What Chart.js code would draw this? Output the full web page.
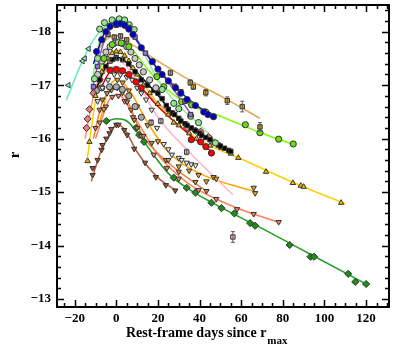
<!DOCTYPE html>
<html>
<head>
<meta charset="utf-8">
<script src="https://cdn.jsdelivr.net/npm/chart.js@4"></script>
<style>
  body { margin: 0; background: #fff; }
  #wrap { width: 394px; height: 348px; }
</style>
</head>
<body>
<div id="wrap"><canvas id="lc"></canvas></div>
<script>
const aquaObs = [[-23,-17.0],[-16.2,-17.45],[-15.2,-17.5],[-13.3,-17.68]];
const aquaFit = [[-24,-16.72],[-18,-17.3],[-12,-17.78],[-6,-18.08],[0,-18.2]];

const paleObs = [[-10.5,-17.12],[-9,-17.5],[-8,-18.05],[-5.7,-18.17],[-2,-18.22],[1.4,-18.24],[4,-18.22],[6.2,-18.13],[8.6,-18.04],[22,-16.92],[27.6,-16.66],[30,-16.56],[35.7,-16.42],[39.5,-16.3],[47.6,-15.92]];
const paleFit = [[-12,-17.0],[-8,-17.85],[-4,-18.15],[1,-18.25],[6,-18.15],[12,-17.7],[20,-17.1],[30,-16.62],[40,-16.26],[48,-15.95]];

const blueObs = [[-9.5,-17.63],[-7,-17.85],[-5,-18.0],[-3,-18.1],[0,-18.15],[2,-18.15],[4,-18.12],[6,-18.05],[8,-17.95],[12,-17.7],[17.3,-17.44],[20,-17.3],[22,-17.2],[25,-17.08],[28.5,-16.95],[31,-16.85],[34,-16.73],[38,-16.62],[42,-16.5],[44,-16.45],[46.7,-16.41]];
const blueFit = [[-11,-17.4],[-6,-17.95],[0,-18.17],[5,-18.1],[10,-17.82],[20,-17.3],[30,-16.9],[40,-16.58],[47,-16.42]];

const purpleObs = [[-11,-16.97],[-9,-17.35],[-4,-17.95],[0,-18.12],[3,-18.15],[6,-18.08],[9,-17.9],[14,-17.6],[28,-16.98],[31,-16.88],[33,-16.7],[35.7,-16.45]];
const purpleFit = [[-12,-16.85],[-6,-17.8],[1,-18.15],[8,-17.95],[15,-17.55],[25,-17.05],[36,-16.45]];

const goldObs = [[-1,-17.9],[2,-17.92],[5,-17.85],[26,-17.23],[35.5,-17.05],[37,-16.97],[43,-16.86],[53.3,-16.71],[60.5,-16.6],[69,-16.22]];
const goldErr = [0.04,0.04,0.04,0.05,0.05,0.05,0.06,0.07,0.1,0.08];
const goldFit = [[-10,-17.6],[-4,-17.88],[0,-17.93],[8,-17.75],[20,-17.45],[35,-17.1],[50,-16.8],[69,-16.38]];

const limeObs = [[-6,-17.5],[-2,-17.76],[2.4,-17.79],[6,-17.72],[19.5,-17.16],[22.8,-16.97],[31.4,-16.69],[36.2,-16.63],[42.9,-16.5],[62,-16.26],[69,-16.11],[78,-15.99],[85,-15.9]];
const limeFit = [[-8,-17.3],[-3,-17.72],[2,-17.8],[8,-17.65],[15,-17.3],[25,-16.9],[35,-16.63],[50,-16.42],[70,-16.1],[86,-15.88]];

const silverObs = [[-9,-17.2],[-7,-17.45],[-5,-17.62],[-3,-17.72],[-1,-17.78],[1,-17.8],[3,-17.78],[5,-17.72],[7,-17.62],[9,-17.5],[11,-17.38],[13,-17.25],[16,-17.1],[19,-16.95]];

const amberObs = [[-13.8,-15.58],[-12.9,-15.94],[-10,-16.8],[-7,-17.25],[-4,-17.5],[-2,-17.6],[0,-17.63],[2,-17.62],[4,-17.55],[6,-17.45],[8,-17.32],[10,-17.2],[13,-17.0],[16,-16.85],[20,-16.65],[25,-16.45],[27.6,-16.3],[30,-16.25],[35,-16.1],[38.6,-16.0],[45,-15.87],[50.5,-15.83],[55,-15.72],[58.6,-15.64],[71.9,-15.38],[84.8,-15.17],[88.6,-15.12],[90,-15.1],[108,-14.8]];
const amberFit = [[-14,-15.6],[-12,-16.2],[-8,-17.15],[-4,-17.52],[0,-17.65],[5,-17.5],[10,-17.2],[20,-16.65],[30,-16.25],[45,-15.87],[60,-15.62],[85,-15.18],[110,-14.78]];

const blackObs = [[-8,-17.1],[-5,-17.35],[-2,-17.48],[0,-17.52],[3,-17.48],[6,-17.4],[9,-17.25],[12,-17.1],[15,-17.0],[18,-16.9],[20,-16.85],[22,-16.75],[24,-16.62],[25,-16.55],[27,-16.48],[28,-16.45],[30,-16.38],[31,-16.33],[33,-16.28],[34,-16.25],[36,-16.2],[38,-16.15],[40,-16.1],[41,-16.06],[43,-16.02],[45,-15.98],[47,-15.93],[49,-15.88],[50,-15.86],[52,-15.82],[54,-15.78],[55,-15.76]];
const blackFit = [[-10,-16.9],[-4,-17.42],[1,-17.52],[8,-17.3],[18,-16.9],[28,-16.45],[40,-16.1],[56,-15.74]];

const redObs = [[-3,-17.28],[0,-17.29],[3,-17.27],[6,-17.2],[9.5,-17.06],[12,-16.95],[36,-15.98],[40.5,-15.94],[43,-15.85],[45.7,-15.73]];
const redFit = [[-8,-16.9],[-3,-17.25],[1,-17.3],[8,-17.12],[20,-16.6],[35,-16.08],[46,-15.75]];

const pinkObs = [[-3,-17.45],[0,-17.5],[3,-17.48],[16.7,-16.3],[21.4,-16.33],[33.8,-15.75],[56,-14.16]];
const pinkErr = [0.04,0.04,0.04,0.05,0.05,0.05,0.1];
const pinkFit = [[-10,-16.8],[-4,-17.4],[0,-17.5],[6,-17.3],[20,-16.4],[35,-15.75],[56,-14.95]];

const salmonObs = [[-14.3,-16.2],[-13.8,-16.37],[-12.9,-16.55],[-11,-16.85],[-8,-17.1],[34,-16.2],[38,-16.15],[40.5,-16.13],[44.3,-16.03]];
const salmonFit = [[-15,-16.0],[-10,-16.95],[-4,-17.3],[0,-17.35],[10,-17.0],[25,-16.5],[45,-16.0]];

const openObs = [[-9,-16.7],[-6.7,-16.95],[-4,-17.1],[-1,-17.2],[2,-17.2],[5,-17.15],[7.6,-17.1],[10,-16.95],[12,-16.85],[14.3,-16.73],[17,-16.54],[19.5,-16.2],[22.8,-15.9],[25,-15.8],[26.7,-15.7],[30,-15.64],[31.4,-15.6],[33.8,-15.55],[36,-15.52],[38,-15.5]];

const grayObs = [[-9.5,-16.9],[-7,-16.95],[-3.3,-16.97],[0,-16.97],[2.9,-16.92],[6,-16.8],[9,-16.6],[12,-16.4]];

const orangeObs = [[-6,-16.55],[-3,-16.95],[0.5,-17.1],[3,-17.05],[6,-16.9],[10,-16.6],[15,-16.25],[20,-15.95],[25,-15.6],[30,-15.48],[35,-15.4],[39.5,-15.32],[43.3,-15.2],[46.7,-15.28],[48,-15.25],[66,-15.08],[66.7,-14.98]];
const orangeFit = [[-8,-16.3],[-4,-16.9],[0,-17.1],[6,-16.92],[15,-16.3],[25,-15.75],[40,-15.35],[67,-15.0]];

const peruObs = [[-10,-16.2],[-8,-16.54],[-6.7,-16.73],[-4.5,-16.85],[-2.4,-16.91],[0.5,-16.95],[2.9,-16.86],[5.2,-16.69],[7.1,-16.54],[8.6,-16.35],[10,-16.2],[13,-16.05],[17,-15.92],[23.8,-15.6],[30,-15.38],[38,-15.19],[43.3,-15.02]];
const peruFit = [[-11,-16.0],[-7,-16.65],[-2,-16.92],[1,-16.95],[6,-16.65],[12,-16.1],[22,-15.65],[32,-15.33],[44,-15.0]];

const coralObs = [[-8,-16.3],[-5,-16.6],[-2,-16.78],[1,-16.8],[4,-16.7],[8,-16.4],[12,-16.05],[18,-15.7],[24.3,-15.45],[30,-15.25],[39.5,-15.04],[48,-14.87],[58,-14.68],[66,-14.59],[78,-14.44]];
const coralFit = [[-10,-16.0],[-3,-16.75],[1,-16.82],[8,-16.45],[20,-15.7],[35,-15.15],[55,-14.75],[79,-14.42]];

const greenObs = [[-4.8,-16.33],[9.5,-16.2],[11,-16.07],[13.3,-15.94],[27.6,-15.27],[33.8,-15.08],[38,-14.99],[45.7,-14.8],[50.5,-14.7],[56.7,-14.6],[64.3,-14.42],[66.7,-14.37],[83.3,-14.01],[93.3,-13.79],[95,-13.79],[111.4,-13.47],[114.8,-13.32],[120,-13.28]];
const greenFit = [[-6,-16.3],[0,-16.37],[5,-16.33],[10,-16.12],[15,-15.85],[25,-15.35],[35,-15.05],[50,-14.72],[70,-14.32],[95,-13.8],[121,-13.26]];

const siennaObs = [[-11.4,-15.32],[-11.4,-15.45],[-9,-15.6],[-7.1,-15.79],[-6.7,-15.88],[-4.8,-16.0],[-3.3,-16.1],[-2.4,-16.18],[0,-16.26],[1,-16.26],[3.8,-16.16],[5.2,-16.07],[8.6,-15.81],[13.8,-15.55],[19,-15.28],[23.8,-15.13],[28.3,-15.03]];
const siennaFit = [[-12,-15.2],[-8,-15.7],[-3,-16.1],[0.5,-16.27],[4,-16.17],[10,-15.75],[20,-15.27],[29,-15.02]];

const xMajor = [-20, 0, 20, 40, 60, 80, 100, 120];
const yMajor = [-18, -17, -16, -15, -14, -13];

const pts = arr => arr.map(p => ({ x: p[0], y: p[1] }));

function obs(data, fill, style, rot) {
  return {
    type: 'scatter', data: pts(data), order: 0,
    pointStyle: style || 'circle', rotation: rot || 0,
    backgroundColor: fill, borderColor: '#333', borderWidth: 1,
    pointRadius: style === 'rectRot' ? 3.6 : 3.1
  };
}
function fit(data, color) {
  return {
    type: 'line', data: pts(data), order: 1,
    borderColor: color, borderWidth: 1.5, pointRadius: 0,
    cubicInterpolationMode: 'monotone', fill: false
  };
}

// points: first in list is drawn on top
const datasets = [
  obs(blueObs, '#0000CD'),
  obs(purpleObs, '#9370DB', 'rect'),
  obs(paleObs, '#8EE58E'),
  obs(aquaObs, '#7FFFD4', 'triangle', -90),
  obs(limeObs, '#66DD11'),
  obs(goldObs, '#D49A20', 'rect'),
  obs(silverObs, '#C8C8C8'),
  obs(blackObs, '#000000', 'rect'),
  obs(redObs, '#FF0000'),
  obs(amberObs, '#F0B400', 'triangle'),
  obs(pinkObs, '#FFB6C1', 'rect'),
  obs(salmonObs, '#F07878', 'rectRot'),
  obs(openObs, '#E6E6E6', 'triangle', 180),
  obs(grayObs, '#A8A8A8'),
  obs(orangeObs, '#F0A020', 'triangle', 180),
  obs(peruObs, '#D2803A', 'triangle', 180),
  obs(coralObs, '#F08060', 'triangle', 180),
  obs(greenObs, '#1E8C1E', 'rectRot'),
  obs(siennaObs, '#A0522D', 'triangle', 180),
  fit(blueFit, '#1515B5'),
  fit(purpleFit, '#8A5CD0'),
  fit(paleFit, '#90EE90'),
  fit(aquaFit, '#70E6BE'),
  fit(limeFit, '#7CFC00'),
  fit(goldFit, '#E0A850'),
  fit(blackFit, '#000000'),
  fit(redFit, '#E00000'),
  fit(amberFit, '#FFD000'),
  fit(pinkFit, '#FFB6C1'),
  fit(salmonFit, '#F49090'),
  fit(orangeFit, '#FFA500'),
  fit(peruFit, '#E08840'),
  fit(coralFit, '#FF8060'),
  fit(greenFit, '#20A020'),
  fit(siennaFit, '#B06040')
];

const SERIF = '"Liberation Serif", "DejaVu Serif", serif';

// frame, inward ticks, tick labels, axis titles and error bars
const framePlugin = {
  id: 'frame',
  afterDatasetsDraw(chart) {
    const { ctx, chartArea: a, scales: { x, y } } = chart;
    ctx.save();
    // error bars
    ctx.lineWidth = 1;
    ctx.strokeStyle = '#555';
    [[goldObs, goldErr], [pinkObs, pinkErr]].forEach(([d, e]) => {
      d.forEach((p, i) => {
        const px = x.getPixelForValue(p[0]);
        const lo = y.getPixelForValue(p[1] - e[i]);
        const hi = y.getPixelForValue(p[1] + e[i]);
        ctx.beginPath();
        ctx.moveTo(px, lo); ctx.lineTo(px, hi);
        ctx.moveTo(px - 2, lo); ctx.lineTo(px + 2, lo);
        ctx.moveTo(px - 2, hi); ctx.lineTo(px + 2, hi);
        ctx.stroke();
      });
    });
    ctx.strokeStyle = '#000';
    ctx.lineWidth = 2;
    ctx.strokeRect(a.left, a.top, a.right - a.left, a.bottom - a.top);
    ctx.lineWidth = 1.5;
    for (let v = -25; v <= 130; v += 5) {
      const px = Math.round(x.getPixelForValue(v)) + 0.5;
      const len = v % 20 === 0 ? 7 : 4;
      ctx.beginPath();
      ctx.moveTo(px, a.bottom); ctx.lineTo(px, a.bottom - len);
      ctx.moveTo(px, a.top); ctx.lineTo(px, a.top + len);
      ctx.stroke();
    }
    for (let k = -92; k <= -65; k++) {
      const v = k / 5;
      const py = Math.round(y.getPixelForValue(v)) + 0.5;
      const len = k % 5 === 0 ? 7 : 4;
      ctx.beginPath();
      ctx.moveTo(a.left, py); ctx.lineTo(a.left + len, py);
      ctx.moveTo(a.right, py); ctx.lineTo(a.right - len, py);
      ctx.stroke();
    }
    ctx.fillStyle = '#000';
    ctx.font = 'bold 13px ' + SERIF;
    ctx.textAlign = 'center';
    ctx.textBaseline = 'middle';
    xMajor.forEach(v => {
      ctx.fillText(String(v).replace('-', '\u2212'), x.getPixelForValue(v), a.bottom + 12);
    });
    ctx.textAlign = 'right';
    yMajor.forEach(v => {
      ctx.fillText(String(v).replace('-', '\u2212'), a.left - 6, y.getPixelForValue(v));
    });
    // x title with subscript
    ctx.font = 'bold 14px ' + SERIF;
    ctx.textAlign = 'left';
    ctx.textBaseline = 'alphabetic';
    const main = 'Rest-frame days since r';
    ctx.fillText(main, 126, 337);
    const w = ctx.measureText(main).width;
    ctx.font = 'bold 11px ' + SERIF;
    ctx.fillText('max', 126 + w + 1, 344);
    // y title
    ctx.font = 'bold 15px ' + SERIF;
    ctx.translate(19, 155);
    ctx.rotate(-Math.PI / 2);
    ctx.textAlign = 'center';
    ctx.fillText('r', 0, 0);
    ctx.restore();
  }
};

new Chart(document.getElementById('lc'), {
  data: { datasets },
  options: {
    responsive: true,
    maintainAspectRatio: false,
    animation: false,
    layout: { padding: { left: 0, top: 5, right: 2, bottom: 0 } },
    plugins: { legend: { display: false }, tooltip: { enabled: false } },
    scales: {
      x: {
        type: 'linear', min: -28.5, max: 131,
        grid: { display: false }, border: { display: false },
        ticks: { display: false },
        afterFit: s => { s.height = 41; }
      },
      y: {
        type: 'linear', min: -18.5, max: -12.85, reverse: true,
        grid: { display: false }, border: { display: false },
        ticks: { display: false },
        afterFit: s => { s.width = 57; }
      }
    }
  },
  plugins: [framePlugin]
});
</script>
</body>
</html>
